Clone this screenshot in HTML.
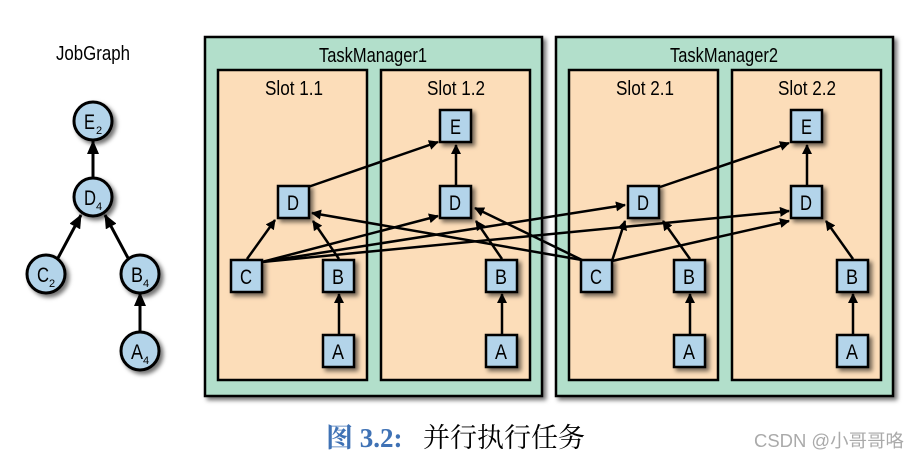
<!DOCTYPE html>
<html><head><meta charset="utf-8"><style>
body{margin:0;background:#fff;width:920px;height:459px;overflow:hidden}
svg text{font-family:"Liberation Sans",sans-serif}
</style></head><body>
<svg width="920" height="459" viewBox="0 0 920 459" xmlns="http://www.w3.org/2000/svg">
<defs>
<marker id="ar" markerWidth="10" markerHeight="10" refX="9" refY="5" orient="auto" markerUnits="userSpaceOnUse"><path d="M0,0 L10,5 L0,10 Z" fill="#000"/></marker>
<marker id="ar2" markerWidth="14" markerHeight="12" refX="13" refY="6" orient="auto" markerUnits="userSpaceOnUse"><path d="M0,0 L14,6 L0,12 Z" fill="#000"/></marker>
<filter id="sh" x="-20%" y="-20%" width="150%" height="150%"><feDropShadow dx="3" dy="3" stdDeviation="2" flood-color="#000" flood-opacity="0.55"/></filter>
</defs>
<text x="56" y="60" font-size="20" textLength="74" lengthAdjust="spacingAndGlyphs">JobGraph</text>
<g stroke="#000" stroke-width="3" marker-end="url(#ar2)">
<line x1="93" y1="178" x2="93" y2="141"/>
<line x1="58" y1="258" x2="81" y2="215"/>
<line x1="128" y1="258" x2="105" y2="215"/>
<line x1="140" y1="332" x2="140" y2="293"/>
</g>
<g fill="#b3d4ea" stroke="#000" stroke-width="3" filter="url(#sh)">
<circle cx="93" cy="121" r="19"/><circle cx="93" cy="197" r="19"/>
<circle cx="46" cy="274" r="19"/><circle cx="140" cy="274" r="19"/><circle cx="140" cy="351" r="19"/>
</g>
<g font-size="21">
<text x="84" y="129" textLength="11" lengthAdjust="spacingAndGlyphs">E</text><text x="96" y="134" font-size="11">2</text>
<text x="84" y="205" textLength="12" lengthAdjust="spacingAndGlyphs">D</text><text x="96" y="210" font-size="11">4</text>
<text x="37" y="282" textLength="12" lengthAdjust="spacingAndGlyphs">C</text><text x="49" y="287" font-size="11">2</text>
<text x="131" y="282" textLength="12" lengthAdjust="spacingAndGlyphs">B</text><text x="143" y="287" font-size="11">4</text>
<text x="131" y="359" textLength="12" lengthAdjust="spacingAndGlyphs">A</text><text x="143" y="364" font-size="11">4</text>
</g>
<g stroke="#000" stroke-width="2.5" filter="url(#sh)">
<rect x="205" y="37" width="337" height="359" fill="#b2dfcb"/>
<rect x="556" y="37" width="337" height="359" fill="#b2dfcb"/>
<rect x="218" y="70" width="149" height="310" fill="#fcddb9"/>
<rect x="381" y="70" width="149" height="310" fill="#fcddb9"/>
<rect x="569" y="70" width="149" height="310" fill="#fcddb9"/>
<rect x="732" y="70" width="149" height="310" fill="#fcddb9"/>
</g>
<g font-size="20">
<text x="319" y="62" textLength="108" lengthAdjust="spacingAndGlyphs">TaskManager1</text>
<text x="670" y="62" textLength="108" lengthAdjust="spacingAndGlyphs">TaskManager2</text>
<text x="265" y="95" textLength="58" lengthAdjust="spacingAndGlyphs">Slot 1.1</text>
<text x="427" y="95" textLength="58" lengthAdjust="spacingAndGlyphs">Slot 1.2</text>
<text x="616" y="95" textLength="58" lengthAdjust="spacingAndGlyphs">Slot 2.1</text>
<text x="778" y="95" textLength="58" lengthAdjust="spacingAndGlyphs">Slot 2.2</text>
</g>
<g stroke="#000" stroke-width="2.5" marker-end="url(#ar)" fill="none">
<line x1="247" y1="259" x2="275" y2="220"/>
<line x1="339" y1="259" x2="313" y2="221"/>
<line x1="339" y1="334" x2="339" y2="294"/>
<line x1="308" y1="187" x2="438" y2="142"/>
<line x1="456" y1="186" x2="456" y2="145"/>
<line x1="502" y1="259" x2="476" y2="221"/>
<line x1="502" y1="334" x2="502" y2="294"/>
<line x1="262" y1="262" x2="438" y2="216"/>
<line x1="262" y1="262" x2="625" y2="205"/>
<line x1="262" y1="262" x2="789" y2="211"/>
<line x1="582" y1="260" x2="312" y2="213"/>
<line x1="582" y1="260" x2="475" y2="208"/>
<line x1="612" y1="261" x2="625" y2="221"/>
<line x1="612" y1="261" x2="789" y2="221"/>
<line x1="690" y1="259" x2="663" y2="221"/>
<line x1="690" y1="334" x2="690" y2="294"/>
<line x1="660" y1="187" x2="789" y2="143"/>
<line x1="807" y1="186" x2="807" y2="145"/>
<line x1="853" y1="259" x2="826" y2="221"/>
<line x1="853" y1="334" x2="853" y2="294"/>
</g>
<g fill="#b3d4ea" stroke="#000" stroke-width="2.5" filter="url(#sh)">
<rect x="278" y="186" width="31" height="32"/><rect x="231" y="260" width="31" height="32"/>
<rect x="323" y="260" width="31" height="32"/><rect x="323" y="335" width="31" height="32"/>
<rect x="440" y="110" width="31" height="32"/><rect x="440" y="186" width="31" height="32"/>
<rect x="486" y="260" width="31" height="32"/><rect x="486" y="335" width="31" height="32"/>
<rect x="628" y="186" width="31" height="32"/><rect x="581" y="260" width="31" height="32"/>
<rect x="674" y="260" width="31" height="32"/><rect x="674" y="335" width="31" height="32"/>
<rect x="791" y="110" width="31" height="32"/><rect x="791" y="186" width="31" height="32"/>
<rect x="837" y="260" width="31" height="32"/><rect x="837" y="335" width="31" height="32"/>
</g>
<g font-size="21">
<text x="287" y="210" textLength="12" lengthAdjust="spacingAndGlyphs">D</text>
<text x="240" y="284" textLength="12" lengthAdjust="spacingAndGlyphs">C</text>
<text x="332" y="284" textLength="12" lengthAdjust="spacingAndGlyphs">B</text>
<text x="332" y="359" textLength="12" lengthAdjust="spacingAndGlyphs">A</text>
<text x="450" y="134" textLength="11" lengthAdjust="spacingAndGlyphs">E</text>
<text x="449" y="210" textLength="12" lengthAdjust="spacingAndGlyphs">D</text>
<text x="495" y="284" textLength="12" lengthAdjust="spacingAndGlyphs">B</text>
<text x="495" y="359" textLength="12" lengthAdjust="spacingAndGlyphs">A</text>
<text x="637" y="210" textLength="12" lengthAdjust="spacingAndGlyphs">D</text>
<text x="590" y="284" textLength="12" lengthAdjust="spacingAndGlyphs">C</text>
<text x="683" y="284" textLength="12" lengthAdjust="spacingAndGlyphs">B</text>
<text x="683" y="359" textLength="12" lengthAdjust="spacingAndGlyphs">A</text>
<text x="801" y="134" textLength="11" lengthAdjust="spacingAndGlyphs">E</text>
<text x="800" y="210" textLength="12" lengthAdjust="spacingAndGlyphs">D</text>
<text x="846" y="284" textLength="12" lengthAdjust="spacingAndGlyphs">B</text>
<text x="846" y="359" textLength="12" lengthAdjust="spacingAndGlyphs">A</text>
</g>
<text x="326" y="447" font-size="27" font-weight="bold" fill="#3f72b5" style="font-family:'Liberation Serif','Noto Serif CJK SC',serif">图 3.2:</text>
<text x="423" y="447" font-size="27" fill="#000" style="font-family:'Liberation Serif','Noto Serif CJK SC',serif">并行执行任务</text>
<text x="754" y="447" font-size="18" fill="#aaa" textLength="150" lengthAdjust="spacingAndGlyphs" style="font-family:'Liberation Sans','Noto Sans CJK SC',sans-serif">CSDN @小哥哥咯</text>
</svg>
</body></html>
